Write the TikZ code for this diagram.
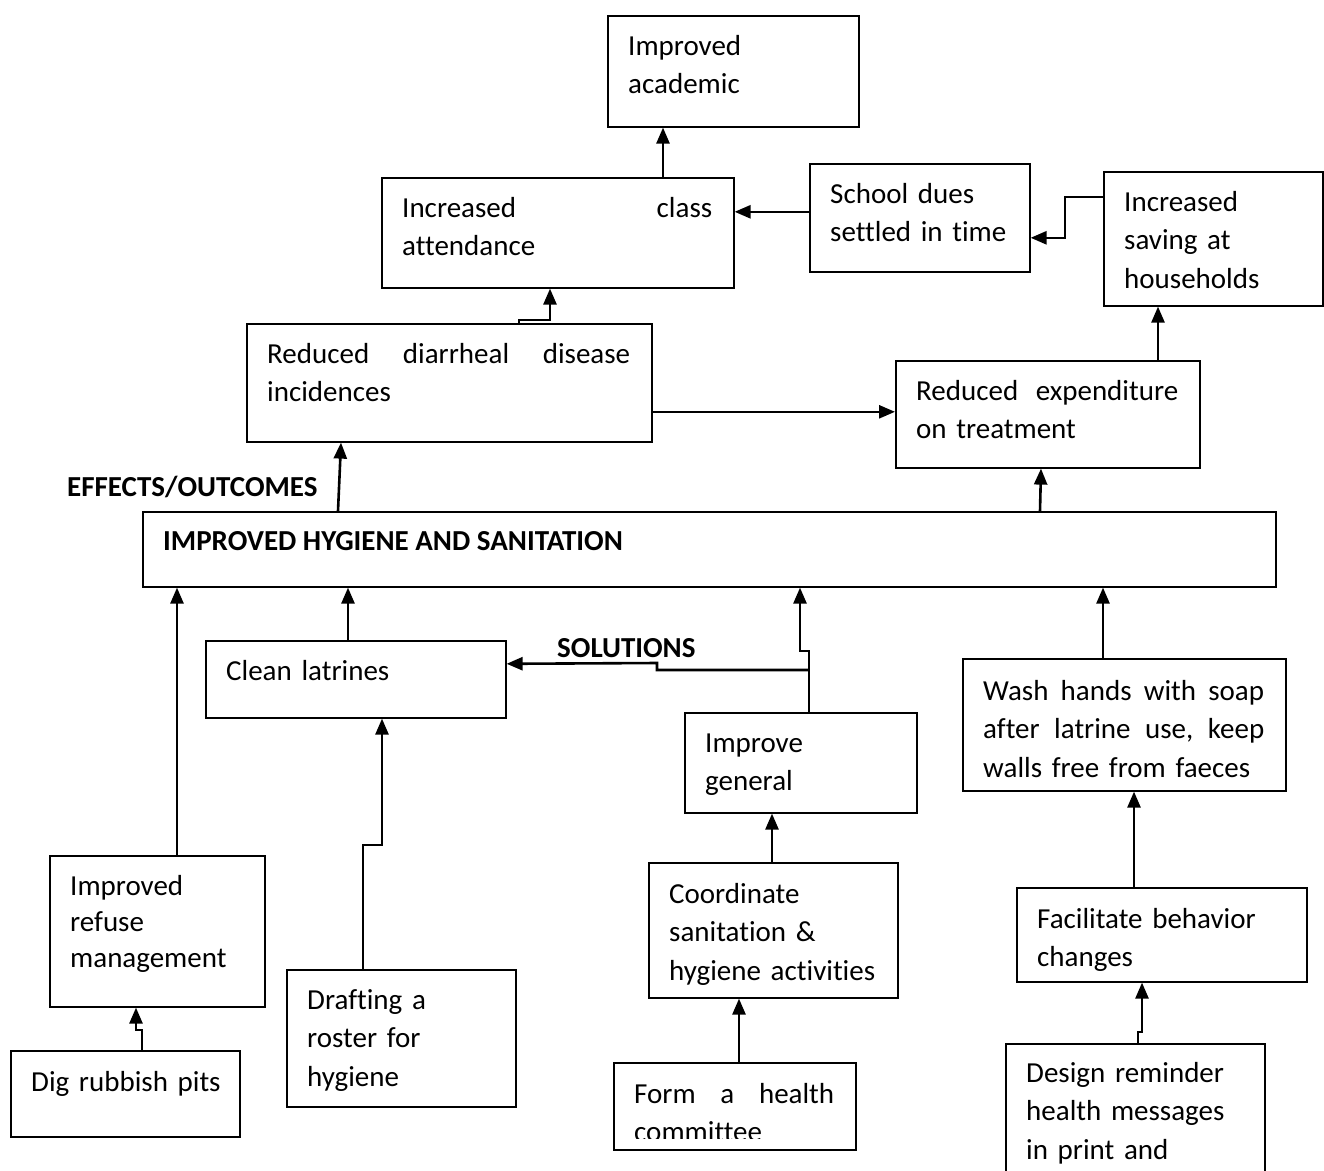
\documentclass[tikz,border=0pt]{standalone}
\usepackage{fontspec}
\setmainfont{Carlito}[Ligatures = CommonOff]
\usetikzlibrary{arrows.meta}

\tikzset{
    box/.style = {draw, line width = 1.6pt, anchor = north west, inner sep = 0pt},
    txt/.style = {anchor = base west, inner sep = 0pt, align = left,
                  font = \fontsize{29}{38.5}\selectfont},
    head/.style = {anchor = base west, inner sep = 0pt,
                   font = \fontsize{29}{38.5}\selectfont\bfseries},
    link/.style = {line width = 2.6pt, -{Triangle[length = 16pt, width = 13pt]}}
}

\begin{document}
\begin{tikzpicture}[x = 1pt, y = -1pt]
    \useasboundingbox (0,0) rectangle (1324,1170);

    % Boxes of the effects (top half)
    \node [box, minimum width = 251pt, minimum height = 111pt] (acad)   at (607,15)  {};
    \node [box, minimum width = 352pt, minimum height = 110pt] (attend) at (381,177) {};
    \node [box, minimum width = 220pt, minimum height = 108pt] (dues)   at (809,163) {};
    \node [box, minimum width = 219pt, minimum height = 134pt] (saving) at (1103,171) {};
    \node [box, minimum width = 405pt, minimum height = 118pt] (diarr)  at (246,323) {};
    \node [box, minimum width = 304pt, minimum height = 107pt] (expend) at (895,360) {};
    \node [box, minimum width = 1133pt, minimum height = 75pt] (hyg)    at (142,511) {};

    % Boxes of the solutions (bottom half)
    \node [box, minimum width = 300pt, minimum height = 77pt]  (latr)   at (205,640) {};
    \node [box, minimum width = 232pt, minimum height = 100pt] (genrl)  at (684,712) {};
    \node [box, minimum width = 323pt, minimum height = 132pt] (wash)   at (962,658) {};
    \node [box, minimum width = 215pt, minimum height = 151pt] (refuse) at (49,855)  {};
    \node [box, minimum width = 229pt, minimum height = 86pt]  (pits)   at (10,1050) {};
    \node [box, minimum width = 229pt, minimum height = 137pt] (roster) at (286,969) {};
    \node [box, minimum width = 249pt, minimum height = 135pt] (coord)  at (648,862) {};
    \node [box, minimum width = 290pt, minimum height = 94pt]  (behav)  at (1016,887) {};
    \node [box, minimum width = 242pt, minimum height = 87pt]  (cmte)   at (613,1062) {};
    \node [box, minimum width = 259pt, minimum height = 140pt] (design) at (1005,1043) {};

    % Texts inside the boxes
    \node [txt, text width = 230pt] (acad-t)   at ([shift = {(21,40)}]acad.north west)   {Improved\\academic};
    \node [txt, text width = 310pt] (attend-t) at ([shift = {(21,40)}]attend.north west) {Increased\hfill class\\attendance};
    \node [txt, text width = 220pt] (dues-t)   at ([shift = {(21,40)}]dues.north west)   {School dues\\settled in time};
    \node [txt, text width = 200pt] (saving-t) at ([shift = {(21,40)}]saving.north west) {Increased\\saving at\\households};
    \node [txt, text width = 363pt] (diarr-t)  at ([shift = {(21,40)}]diarr.north west)  {Reduced\hfill diarrheal\hfill disease\\incidences};
    \node [txt, text width = 262pt] (expend-t) at ([shift = {(21,40)}]expend.north west) {Reduced\hfill expenditure\\on treatment};
    \node [head] (hyg-t) at ([shift = {(21,39)}]hyg.north west) {IMPROVED HYGIENE AND SANITATION};

    \node [txt, text width = 280pt] (latr-t)   at ([shift = {(21,40)}]latr.north west)   {Clean latrines};
    \node [txt, text width = 210pt] (genrl-t)  at ([shift = {(21,40)}]genrl.north west)  {Improve\\general};
    \node [txt, text width = 281pt] (wash-t)   at ([shift = {(21,42)}]wash.north west)
        {Wash\hfill hands\hfill with\hfill soap\\after\hfill latrine\hfill use,\hfill keep\\walls free from faeces};
    \node [txt, text width = 200pt, font = \fontsize{29}{36}\selectfont] (refuse-t)
        at ([shift = {(21,40)}]refuse.north west) {Improved\\refuse\\management};
    \node [txt, text width = 220pt] (pits-t)   at ([shift = {(21,41)}]pits.north west)   {Dig rubbish pits};
    \node [txt, text width = 210pt] (roster-t) at ([shift = {(21,40)}]roster.north west) {Drafting a\\roster for\\hygiene};
    \node [txt, text width = 240pt] (coord-t)  at ([shift = {(21,41)}]coord.north west)  {Coordinate\\sanitation \&\\hygiene activities};
    \node [txt, text width = 270pt] (behav-t)  at ([shift = {(21,41)}]behav.north west)  {Facilitate behavior\\changes};
    \begin{scope}
        \clip (cmte.north west) rectangle ([yshift = 12pt]cmte.south east);
        \node [txt, text width = 200pt] (cmte-t) at ([shift = {(21,41)}]cmte.north west) {Form\hfill a\hfill health\\committee};
    \end{scope}
    \node [txt, text width = 240pt] (design-t) at ([shift = {(21,39)}]design.north west) {Design reminder\\health messages\\in print and};

    % Headings
    \node [head] (effects) at (67,496)  {EFFECTS/OUTCOMES};
    \node [head] (solut)   at (557,657) {SOLUTIONS};

    % Connectors among the effects
    \draw [link] ([xshift = 282pt]attend.north west) -- ([xshift = 56pt]acad.south west);
    \draw [link] ([yshift = 6pt]dues.west) -- ([yshift = 21pt]attend.east);
    \draw [link] ([yshift = 42pt]saving.west) -- ++(-38,0) |- ([yshift = -20pt]dues.east);
    \draw [link] ([xshift = 273pt]diarr.north west) -- ++(0,-3) -| ([xshift = 169pt]attend.south west);
    \draw [link] ([yshift = -29pt]diarr.east) -- ([yshift = 2.5pt]expend.west);
    \draw [link] ([xshift = 263pt]expend.north west) -- ([xshift = 55pt]saving.south west);
    \draw [link] ([xshift = 196pt]hyg.north west) -- ([xshift = 95pt]diarr.south west);
    \draw [link] ([xshift = 898pt]hyg.north west) -- ([xshift = 146pt]expend.south west);

    % Connectors among the solutions
    \draw [link] ([xshift = 143pt]latr.north west) -- ([xshift = 206pt]hyg.south west);
    \draw [link] ([xshift = 125pt]genrl.north west) -- ++(0,-61) -- ++(-9,0) -- ([xshift = 658pt]hyg.south west);
    \draw [link] ([shift = {(125,-42)}]genrl.north west) -- ++(-152,0) -- ++(0,-7) -- ([yshift = 15.5pt]latr.east);
    \draw [link] ([xshift = 141pt]wash.north west) -- ([xshift = 961pt]hyg.south west);
    \draw [link] ([xshift = 128pt]refuse.north west) -- ([xshift = 35pt]hyg.south west);
    \draw [link] ([xshift = 77pt]roster.north west) -- ++(0,-124) -| ([xshift = 177pt]latr.south west);
    \draw [link] ([xshift = 132pt]pits.north west) -- ++(0,-20) -| ([xshift = 87pt]refuse.south west);
    \draw [link] ([xshift = 124pt]coord.north west) -- ([xshift = 88pt]genrl.south west);
    \draw [link] ([xshift = 126pt]cmte.north west) -- ([xshift = 91pt]coord.south west);
    \draw [link] ([xshift = 118pt]behav.north west) -- ([xshift = 172pt]wash.south west);
    \draw [link] ([xshift = 133pt]design.north west) -- ++(0,-11) -| ([xshift = 126pt]behav.south west);
\end{tikzpicture}
\end{document}
